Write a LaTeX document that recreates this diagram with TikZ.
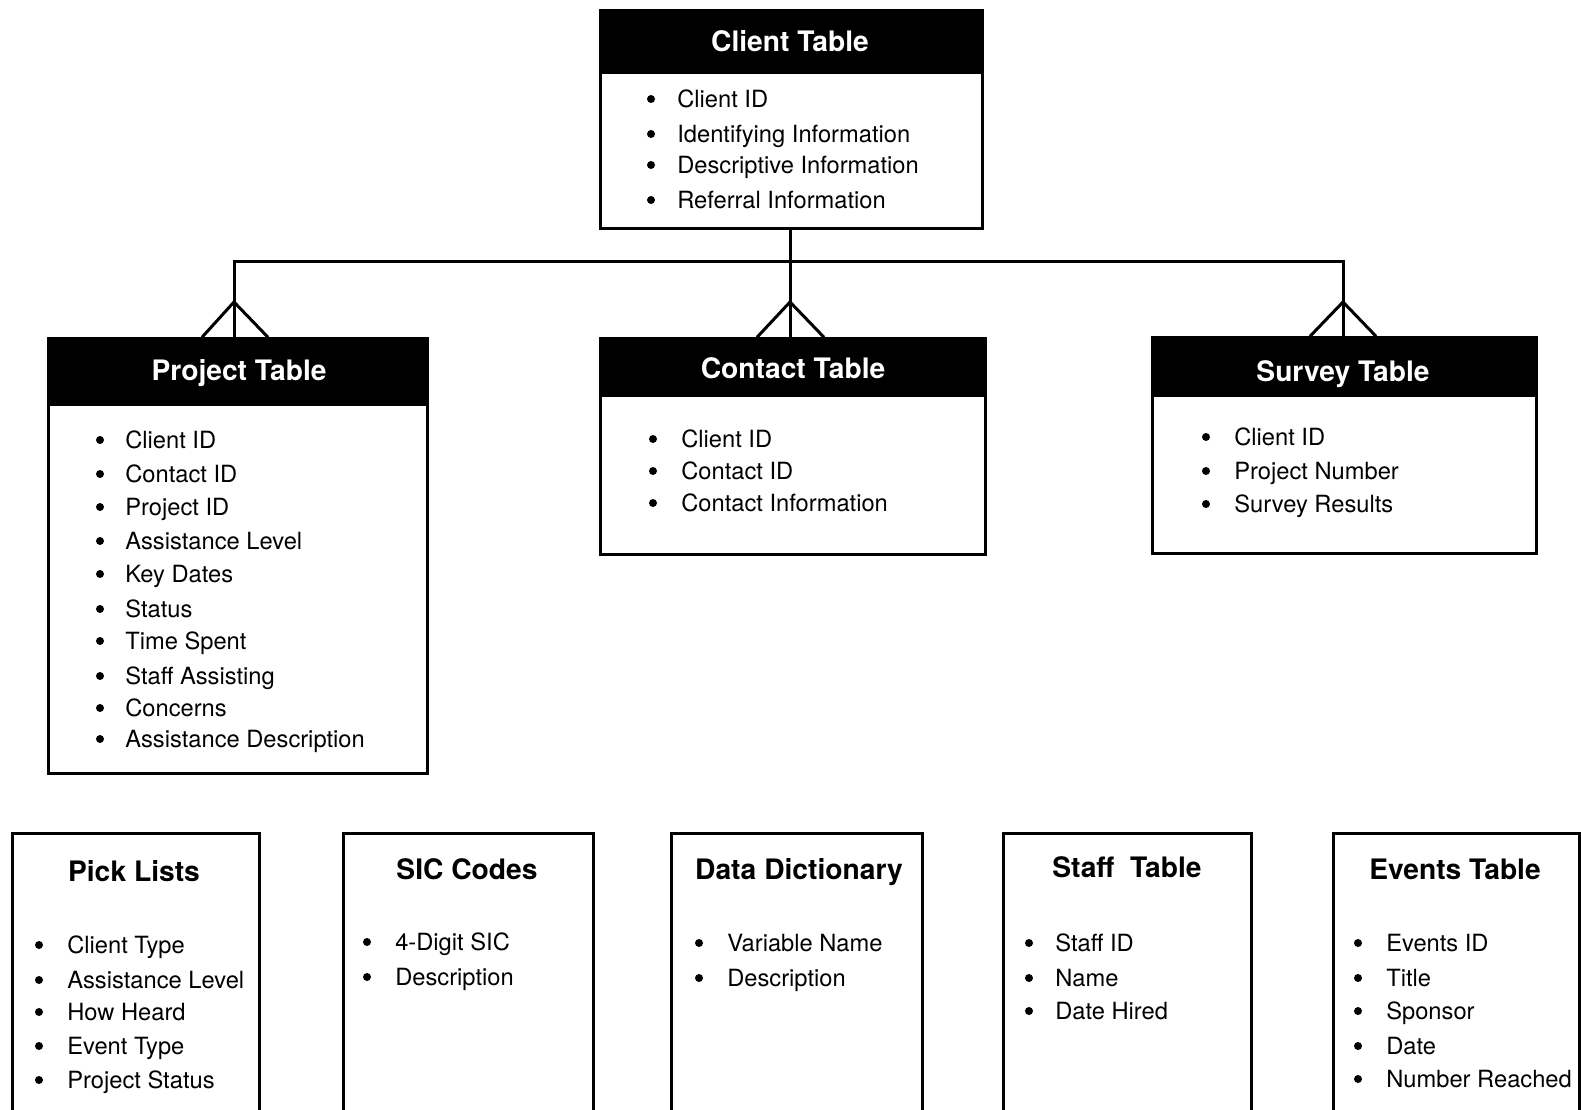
\documentclass[tikz,border=0pt]{standalone}
\usepackage{fontspec}
\setmainfont{TeX Gyre Heros}
\begin{document}
\begin{tikzpicture}[x=1pt,y=-1pt,line width=2.6pt,
  hdr/.style={fill=black,draw=black,anchor=north west,inner sep=0pt},
  bodybox/.style={draw=black,fill=white,anchor=north west,inner sep=0pt},
  ttl/.style={anchor=base,inner sep=0pt,font=\fontsize{28.2}{30}\selectfont\bfseries},
  item/.style={anchor=base west,inner sep=0pt,font=\fontsize{23.7}{26}\selectfont},
  conn/.style={line width=3pt,line join=miter}]
\clip (0,0) rectangle (1581,1110);
\fill[white] (0,0) rectangle (1581,1110);

% ---------- Client table
\node[bodybox,minimum width=382pt,minimum height=156pt] (cb) at (599.3,71) {};
\node[hdr,minimum width=382pt,minimum height=62pt] (ch) at (599.3,9.3) {};
\node[ttl,text=white] (ct) at (790,51.5) {Client Table};
\foreach \t/\y [count=\i] in {Client ID/99,Identifying Information/134,Descriptive Information/165,Referral Information/200}{
  \fill (651,\y) circle (4pt);
  \node[item] (ci\i) at (676,\y+8.5) {\t};
}

% ---------- Project table
\node[bodybox,minimum width=379pt,minimum height=369pt] (pb) at (47.3,403) {};
\node[hdr,minimum width=379pt,minimum height=66pt] (ph) at (47.3,337.3) {};
\node[ttl,text=white] (pt) at (239,380) {Project Table};
\foreach \t/\y [count=\i] in {Client ID/440,Contact ID/474,Project ID/507,Assistance Level/541,Key Dates/574,Status/609,Time Spent/641,Staff Assisting/676,Concerns/708,Assistance Description/739}{
  \fill (100,\y) circle (4pt);
  \node[item] (pi\i) at (124,\y+8.5) {\t};
}

% ---------- Contact table
\node[bodybox,minimum width=385pt,minimum height=159pt] (kb) at (599.3,394) {};
\node[hdr,minimum width=385pt,minimum height=57pt] (kh) at (599.3,337.3) {};
\node[ttl,text=white] (kt) at (793,378) {Contact Table};
\foreach \t/\y [count=\i] in {Client ID/439,Contact ID/471,Contact Information/503}{
  \fill (653,\y) circle (4pt);
  \node[item] (ki\i) at (680,\y+8.5) {\t};
}

% ---------- Survey table
\node[bodybox,minimum width=384pt,minimum height=158pt] (sb) at (1151.3,394) {};
\node[hdr,minimum width=384pt,minimum height=58pt] (sh) at (1151.3,336.3) {};
\node[ttl,text=white] (st) at (1343,381) {Survey Table};
\foreach \t/\y [count=\i] in {Client ID/437,Project Number/471,Survey Results/504}{
  \fill (1206,\y) circle (4pt);
  \node[item] (si\i) at (1233,\y+8.5) {\t};
}

% ---------- Connectors with crow's feet
\coordinate (bus) at (790,261);
\coordinate (pj) at (234,261);
\coordinate (sj) at (1343,261);
\draw[conn] (cb.south -| bus) -- (bus);
\draw[conn] (ph.north -| pj) -- (pj) -- (sj) -- (sh.north -| sj);
\draw[conn] (bus) -- (kh.north -| bus);
\draw[conn] ([xshift=-32pt]ph.north -| pj) -- ([yshift=-302pt]pj |- 0,0) -- ([xshift=34pt]ph.north -| pj);
\draw[conn] ([xshift=-33pt]kh.north -| bus) -- ([yshift=-302pt]bus |- 0,0) -- ([xshift=34pt]kh.north -| bus);
\draw[conn] ([xshift=-33pt]sh.north -| sj) -- ([yshift=-302pt]sj |- 0,0) -- ([xshift=33pt]sh.north -| sj);

% ---------- Bottom boxes
\node[bodybox,minimum width=247pt,minimum height=320pt] (plb) at (11.3,832.3) {};
\node[ttl] (plt) at (134,881) {Pick Lists};
\foreach \t/\y [count=\i] in {Client Type/945,Assistance Level/980,How Heard/1012,Event Type/1046,Project Status/1080}{
  \fill (39,\y) circle (4pt);
  \node[item] (pl\i) at (66,\y+8.5) {\t};
}

\node[bodybox,minimum width=250pt,minimum height=320pt] (sicb) at (342.3,832.3) {};
\node[ttl] (sict) at (467,879) {SIC Codes};
\foreach \t/\y [count=\i] in {4-Digit SIC/942,Description/977}{
  \fill (367,\y) circle (4pt);
  \node[item] (sic\i) at (394,\y+8.5) {\t};
}

\node[bodybox,minimum width=251pt,minimum height=320pt] (ddb) at (670.3,832.3) {};
\node[ttl] (ddt) at (799,879) {Data Dictionary};
\foreach \t/\y [count=\i] in {Variable Name/943,Description/978}{
  \fill (699,\y) circle (4pt);
  \node[item] (dd\i) at (726,\y+8.5) {\t};
}

\node[bodybox,minimum width=248pt,minimum height=320pt] (stb) at (1002.3,832.3) {};
\node[ttl] (stt) at (1127,877) {Staff\ \ Table};
\foreach \t/\y [count=\i] in {Staff ID/943,Name/978,Date Hired/1011}{
  \fill (1029,\y) circle (4pt);
  \node[item] (stf\i) at (1054,\y+8.5) {\t};
}

\node[bodybox,minimum width=246pt,minimum height=320pt] (evb) at (1332.3,832.3) {};
\node[ttl] (evt) at (1455,879) {Events Table};
\foreach \t/\y [count=\i] in {Events ID/943,Title/978,Sponsor/1011,Date/1046,Number Reached/1079}{
  \fill (1358,\y) circle (4pt);
  \node[item] (ev\i) at (1385,\y+8.5) {\t};
}
\end{tikzpicture}
\end{document}
